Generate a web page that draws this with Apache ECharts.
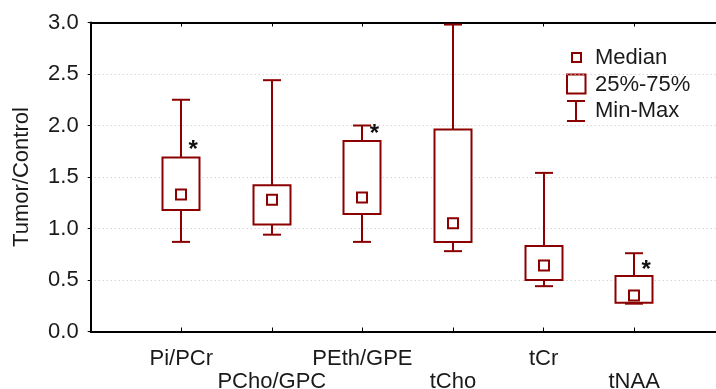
<!DOCTYPE html>
<html><head><meta charset="utf-8">
<script src="https://cdn.jsdelivr.net/npm/echarts@6/dist/echarts.min.js"></script>
<style>html,body{margin:0;padding:0;background:#fff}#c{width:716px;height:389px}</style>
</head><body><div id="c"></div>
<script>
// ---- data ----
const categories = ['Pi/PCr', 'PCho/GPC', 'PEth/GPE', 'tCho', 'tCr', 'tNAA'];
const minVals    = [0.87, 0.94, 0.87, 0.78, 0.44, 0.27];
const q1Vals     = [1.18, 1.04, 1.14, 0.87, 0.50, 0.28];
const medianVals = [1.33, 1.28, 1.30, 1.05, 0.64, 0.35];
const q3Vals     = [1.69, 1.42, 1.85, 1.96, 0.83, 0.54];
const maxVals    = [2.25, 2.44, 2.00, 2.98, 1.54, 0.76];
const starCats   = ['Pi/PCr', 'PEth/GPE', 'tNAA'];
const starVals   = [1.82, 1.97, 0.65];
const yTickLabels = ['0.0', '0.5', '1.0', '1.5', '2.0', '2.5', '3.0'];
const legendLabels = ['Median', '25%-75%', 'Min-Max'];

// ---- style ----
const COLOR = '#8b0000';
const TXT = '#1a1a1a';
const FONT = "'Liberation Sans', Arial, sans-serif";

const boxData = categories.map((c, i) => [i + 1, minVals[i], q1Vals[i], medianVals[i], q3Vals[i], maxVals[i]]);
const starData = starCats.map((c, i) => [categories.indexOf(c) + 1, starVals[i]]);

const chart = echarts.init(document.getElementById('c'), null, {renderer: 'canvas'});

const xCommon = {
  type: 'value', min: 0, max: categories.length + 1, interval: 1,
  splitLine: {show: false},
  axisLine: {show: true, onZero: false, lineStyle: {color: '#000', width: 2}},
  axisTick: {show: true, inside: true, length: 4, lineStyle: {color: '#000', width: 1}}
};

chart.setOption({
  animation: false,
  backgroundColor: '#fff',
  grid: {left: 90.7, top: 22.5, width: 634, height: 309, containLabel: false, outerBoundsMode: 'none'},
  xAxis: [
    Object.assign({}, xCommon, {
      position: 'bottom',
      axisLabel: {
        show: true, margin: 16, fontSize: 22, lineHeight: 23, color: TXT, fontFamily: FONT,
        formatter: v => {
          const i = Math.round(v) - 1;
          if (i < 0 || i >= categories.length) return '';
          return (i % 2 === 1 ? '\n' : '') + categories[i];
        }
      }
    }),
    Object.assign({}, xCommon, {position: 'top', axisLabel: {show: false}})
  ],
  yAxis: {
    type: 'value', min: 0, max: 3, interval: 0.5,
    name: 'Tumor/Control', nameLocation: 'middle', nameGap: 58,
    nameTextStyle: {fontSize: 22, color: TXT, fontFamily: FONT},
    axisLine: {show: true, lineStyle: {color: '#000', width: 2}},
    axisTick: {show: true, length: 3, lineStyle: {color: '#000'}},
    axisLabel: {
      margin: 12, fontSize: 22, color: TXT, fontFamily: FONT,
      formatter: v => yTickLabels[Math.round(v / 0.5)]
    },
    splitLine: {show: true, lineStyle: {color: '#c4c4c4', type: [1, 3], width: 1}}
  },
  series: [
    {
      type: 'custom',
      xAxisIndex: 0,
      data: boxData,
      renderItem: (params, api) => {
        const x = api.value(0);
        const pMin = api.coord([x, api.value(1)]);
        const pQ1 = api.coord([x, api.value(2)]);
        const pMed = api.coord([x, api.value(3)]);
        const pQ3 = api.coord([x, api.value(4)]);
        const pMax = api.coord([x, api.value(5)]);
        const cx = Math.round(pMin[0]);
        const bw = 37, cw = 18, ms = 10;
        const ls = {stroke: COLOR, lineWidth: 2, fill: null};
        return {
          type: 'group',
          children: [
            {type: 'line', shape: {x1: cx, y1: pMax[1], x2: cx, y2: pQ3[1]}, style: ls},
            {type: 'line', shape: {x1: cx, y1: pQ1[1], x2: cx, y2: pMin[1]}, style: ls},
            {type: 'line', shape: {x1: cx - cw / 2, y1: pMax[1], x2: cx + cw / 2, y2: pMax[1]}, style: ls},
            {type: 'line', shape: {x1: cx - cw / 2, y1: pMin[1], x2: cx + cw / 2, y2: pMin[1]}, style: ls},
            {type: 'rect', shape: {x: cx - bw / 2, y: pQ3[1], width: bw, height: pQ1[1] - pQ3[1]},
              style: {stroke: COLOR, lineWidth: 2, fill: '#fff'}},
            {type: 'rect', shape: {x: cx - ms / 2, y: pMed[1] - ms / 2, width: ms, height: ms},
              style: {stroke: COLOR, lineWidth: 2, fill: '#fff'}}
          ]
        };
      }
    },
    {
      type: 'custom',
      xAxisIndex: 0,
      data: starData,
      renderItem: (params, api) => {
        const p = api.coord([api.value(0), api.value(1)]);
        return {
          type: 'text',
          style: {text: '*', x: p[0] + 12, y: p[1] + 6, fontSize: 24, fontWeight: 'bold', fontFamily: FONT,
            fill: '#111', align: 'center', verticalAlign: 'middle'}
        };
      }
    }
  ],
  graphic: [
    {type: 'rect', shape: {x: 572, y: 53, width: 9, height: 9}, style: {stroke: COLOR, lineWidth: 2, fill: '#fff'}},
    {type: 'rect', shape: {x: 567, y: 74.5, width: 18.5, height: 19}, style: {stroke: COLOR, lineWidth: 2, fill: '#fff'}},
    {type: 'line', shape: {x1: 576, y1: 101, x2: 576, y2: 121}, style: {stroke: COLOR, lineWidth: 2}},
    {type: 'line', shape: {x1: 567, y1: 101, x2: 585, y2: 101}, style: {stroke: COLOR, lineWidth: 2}},
    {type: 'line', shape: {x1: 567, y1: 121, x2: 585, y2: 121}, style: {stroke: COLOR, lineWidth: 2}},
    {type: 'text', style: {text: legendLabels[0], x: 595, y: 58, fontSize: 22, fontFamily: FONT, fill: TXT, verticalAlign: 'middle'}},
    {type: 'text', style: {text: legendLabels[1], x: 595, y: 84.5, fontSize: 22, fontFamily: FONT, fill: TXT, verticalAlign: 'middle'}},
    {type: 'text', style: {text: legendLabels[2], x: 595, y: 111, fontSize: 22, fontFamily: FONT, fill: TXT, verticalAlign: 'middle'}}
  ]
});
</script>
</body></html>
